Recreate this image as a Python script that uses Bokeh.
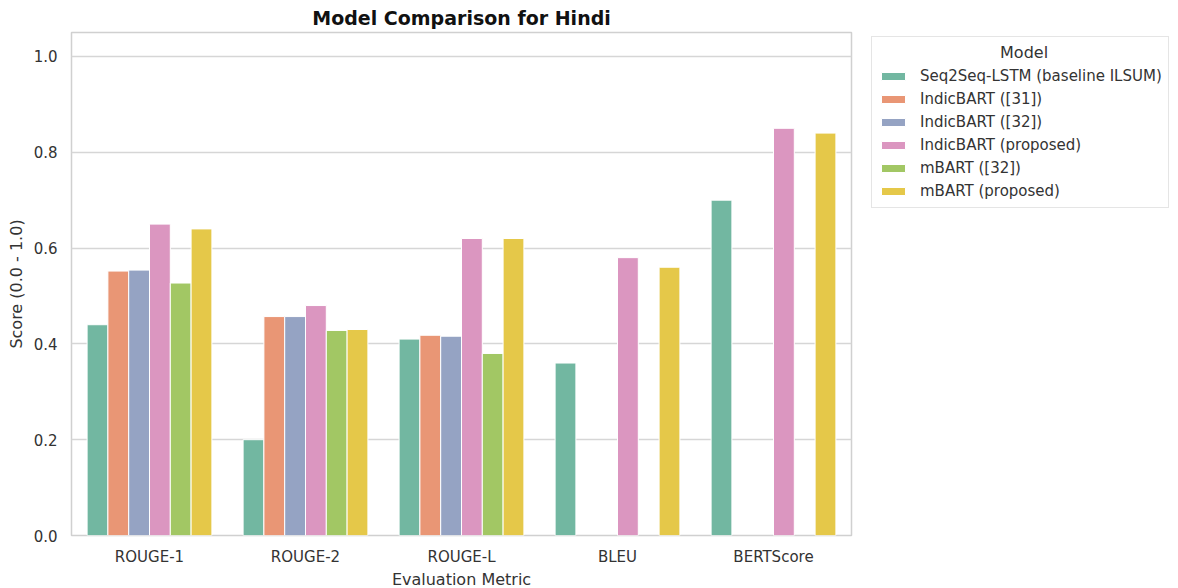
from bokeh.plotting import figure
from bokeh.models import ColumnDataSource, FixedTicker, Legend, LegendItem, Range1d, CustomJSTickFormatter
from bokeh.transform import dodge
from bokeh.embed import file_html
from bokeh.resources import INLINE
import math

metrics = ["ROUGE-1", "ROUGE-2", "ROUGE-L", "BLEU", "BERTScore"]
models = ["Seq2Seq-LSTM (baseline ILSUM)", "IndicBART ([31])", "IndicBART ([32])",
          "IndicBART (proposed)", "mBART ([32])", "mBART (proposed)"]
nan = float("nan")
seq2seq_lstm = [0.44, 0.20, 0.41, 0.36, 0.70]
indicbart_31 = [0.552, 0.457, 0.418, nan, nan]
indicbart_32 = [0.554, 0.457, 0.416, nan, nan]
indicbart_proposed = [0.65, 0.48, 0.62, 0.58, 0.85]
mbart_32 = [0.527, 0.428, 0.38, nan, nan]
mbart_proposed = [0.64, 0.43, 0.62, 0.56, 0.84]
series = [seq2seq_lstm, indicbart_31, indicbart_32, indicbart_proposed, mbart_32, mbart_proposed]
colors = ["#72b7a1", "#e99675", "#95a3c3", "#db96c0", "#a2c764", "#e5c849"]
y_ticks = [0.0, 0.2, 0.4, 0.6, 0.8, 1.0]
legend_title = "Model"

FONT = "DejaVu Sans"
TXT = "#333333"

p = figure(x_range=metrics, y_range=Range1d(0, 1.05),
           frame_width=780, frame_height=503,
           output_backend="svg", toolbar_location=None,
           title="Model Comparison for Hindi")
p.min_border_left = 71
p.min_border_top = 25
p.min_border_bottom = 10
p.min_border_right = 318

p.title.align = "center"
p.title.text_font = FONT
p.title.text_font_size = "19px"
p.title.text_font_style = "bold"
p.title.text_color = "#111111"
p.title.standoff = 8

n = len(models)
bw = 0.8 / n
items = []
for i, (name, vals, col) in enumerate(zip(models, series, colors)):
    xs = [m for m, v in zip(metrics, vals) if not math.isnan(v)]
    ys = [v for v in vals if not math.isnan(v)]
    src = ColumnDataSource(dict(x=xs, top=ys))
    off = -0.4 + bw * (i + 0.5)
    r = p.vbar(x=dodge("x", off, range=p.x_range), top="top", bottom=0, width=bw,
               source=src, fill_color=col, line_color="white", line_width=1)
    items.append(LegendItem(label=name, renderers=[r]))

legend = Legend(items=items, title="\u00a0" * 24 + legend_title, location=(20, 327))
legend.margin = 0
legend.padding = 6
legend.border_line_color = "#cccccc"
legend.border_line_width = 1
legend.label_text_font = FONT
legend.label_text_font_size = "15px"
legend.label_text_color = TXT
legend.label_standoff = 12
legend.title_text_font = FONT
legend.title_text_font_size = "16px"
legend.title_text_font_style = "normal"
legend.title_text_color = TXT
legend.title_standoff = 4
legend.glyph_width = 30
legend.glyph_height = 10
legend.label_height = 20
legend.spacing = 3
p.add_layout(legend, "right")

p.xgrid.grid_line_color = None
p.ygrid.grid_line_color = "#d6d6d6"
p.ygrid.grid_line_width = 1.5
p.outline_line_color = "#d0d0d0"
p.outline_line_width = 1.5
p.background_fill_color = "white"

p.yaxis.ticker = FixedTicker(ticks=y_ticks)
p.yaxis.formatter = CustomJSTickFormatter(code="return tick.toFixed(1);")

for ax in (p.xaxis, p.yaxis):
    ax.axis_line_color = None
    ax.major_tick_line_color = None
    ax.minor_tick_line_color = None
    ax.major_tick_out = 0
    ax.major_tick_in = 0
    ax.minor_tick_out = 0
    ax.minor_tick_in = 0
    ax.major_label_text_font = FONT
    ax.major_label_text_font_size = "15px"
    ax.major_label_text_color = TXT
    ax.axis_label_text_font = FONT
    ax.axis_label_text_font_size = "16px"
    ax.axis_label_text_font_style = "normal"
    ax.axis_label_text_color = TXT
p.yaxis.major_label_standoff = 14
p.yaxis.axis_label_standoff = 5
p.xaxis.major_label_standoff = 12
p.xaxis.axis_label_standoff = 1
p.xaxis.axis_label = "Evaluation Metric"
p.yaxis.axis_label = "Score (0.0 - 1.0)"

open("out.html", "w").write(file_html(p, INLINE))
